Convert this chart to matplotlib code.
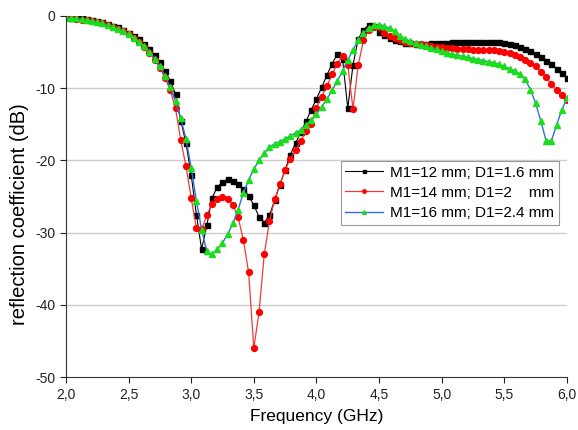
import numpy as np
import matplotlib
matplotlib.use("Agg")
import matplotlib.pyplot as plt
from matplotlib.ticker import FuncFormatter

plt.rcParams['font.family'] = ['Liberation Sans', 'DejaVu Sans']
plt.rcParams['axes.unicode_minus'] = False

# frequency grid (GHz), 97 points 2.0 .. 6.0
freq = np.linspace(2.0, 6.0, 97)

# M1=12 mm; D1=1.6 mm
s11_m12 = [
    -0.2, -0.25, -0.3, -0.35, -0.45, -0.6, -0.75, -0.9, -1.1, -1.35,
    -1.6, -1.95, -2.3, -2.75, -3.25, -3.85, -4.55, -5.4, -6.4, -7.6,
    -9.0, -10.8, -14.5, -17.6, -22.0, -27.5, -32.3, -29.0, -25.2, -23.7,
    -23.0, -22.6, -22.8, -23.3, -23.9, -24.9, -26.2, -27.8, -28.6, -27.6,
    -25.5, -23.4, -21.3, -19.2, -17.6, -16.1, -14.6, -13.0, -11.5, -9.9,
    -8.2, -6.6, -5.3, -6.0, -12.8, -6.8, -3.2, -1.9, -1.3, -1.4,
    -2.2, -2.7, -3.05, -3.3, -3.5, -3.7, -3.8, -3.85, -3.85, -3.85,
    -3.8, -3.8, -3.75, -3.7, -3.65, -3.6, -3.6, -3.55, -3.55, -3.55,
    -3.55, -3.55, -3.6, -3.65, -3.75, -3.9, -4.05, -4.3, -4.6, -4.9,
    -5.3, -5.7, -6.2, -6.7, -7.3, -7.9, -8.6,
]

# M1=14 mm; D1=2 mm
s11_m14 = [
    -0.3, -0.35, -0.4, -0.5, -0.6, -0.75, -0.9, -1.05, -1.25, -1.5,
    -1.8, -2.15, -2.55, -3.0, -3.6, -4.3, -5.1, -6.1, -7.2, -8.6,
    -10.3, -12.8, -17.2, -20.8, -25.2, -29.4, -29.5, -27.6, -26.0, -25.3,
    -25.0, -25.3, -26.2, -27.9, -31.0, -35.5, -46.0, -41.0, -33.0, -28.4,
    -25.4, -23.3, -21.3, -19.8, -18.6, -17.3, -16.0, -14.9, -12.7, -11.2,
    -9.7, -8.1, -6.6, -5.5, -6.8, -12.9, -6.8, -3.4, -2.0, -1.5,
    -1.5, -2.3, -2.8, -3.1, -3.4, -3.6, -3.75, -3.85, -3.95, -4.05,
    -4.15, -4.25, -4.35, -4.45, -4.5, -4.55, -4.6, -4.6, -4.65, -4.65,
    -4.7, -4.7, -4.75, -4.85, -5.0, -5.2, -5.45, -5.75, -6.1, -6.5,
    -7.0, -7.7, -8.5, -9.4, -10.2, -11.0, -11.7,
]

# M1=16 mm; D1=2.4 mm
s11_m16 = [
    -0.25, -0.3, -0.35, -0.45, -0.55, -0.7, -0.85, -1.05, -1.25, -1.5,
    -1.8, -2.15, -2.55, -3.0, -3.55, -4.2, -5.0, -5.9, -7.0, -8.3,
    -9.9, -11.8, -14.2, -17.0, -21.0, -25.6, -29.6, -32.6, -33.0, -32.3,
    -31.4, -30.2, -28.7, -26.8, -24.5, -22.7, -21.2, -20.0, -19.0, -18.2,
    -17.7, -17.4, -17.0, -16.6, -16.2, -15.8, -15.1, -14.4, -13.6, -12.6,
    -11.5, -10.3, -9.0, -7.6, -6.1, -4.7, -3.4, -2.4, -1.7, -1.3,
    -1.2, -1.4, -1.7, -2.1, -2.8, -3.2, -3.5, -3.8, -4.0, -4.2,
    -4.4, -4.6, -4.9, -5.1, -5.3, -5.45, -5.6, -5.75, -5.9, -6.05,
    -6.2, -6.35, -6.5, -6.7, -7.0, -7.3, -7.6, -8.1, -8.8, -10.2,
    -12.1, -14.6, -17.3, -17.3, -15.1, -13.0, -11.4,
]

labels = ["M1=12 mm; D1=1.6 mm", "M1=14 mm; D1=2    mm", "M1=16 mm; D1=2.4 mm"]
yticks = [0, -10, -20, -30, -40, -50]
xticks = [2.0, 2.5, 3.0, 3.5, 4.0, 4.5, 5.0, 5.5, 6.0]

fig = plt.figure(figsize=(5.78, 4.30), dpi=100)
ax = fig.add_axes([0.114, 0.123, 0.867, 0.840])

ax.plot(freq, s11_m12, color='black', lw=0.8, marker='s', ms=3.6,
        mfc='black', mec='black', label=labels[0])
ax.plot(freq, s11_m14, color='#f03a3a', lw=0.9, marker='o', ms=4.2,
        mfc='#ff0000', mec='#ff0000', label=labels[1])
ax.plot(freq, s11_m16, color='#2f6fdf', lw=1.0, marker='^', ms=4.6,
        mfc='#18e018', mec='#18e018', label=labels[2])

ax.set_xlim(2.0, 6.0)
ax.set_ylim(-50, 0)
ax.set_xticks(xticks)
ax.set_yticks(yticks)
ax.xaxis.set_major_formatter(FuncFormatter(lambda v, p: ("%.1f" % v).replace('.', ',')))
ax.tick_params(direction='out', length=4, width=0.8, labelsize=10, colors='#222222')

ax.grid(axis='y', color='#cccccc', lw=1.0)
ax.set_axisbelow(True)
for t, gl in zip(ax.get_yticks(), ax.get_ygridlines()):
    if t == 0 or t == -50:
        gl.set_visible(False)

ax.spines['top'].set_visible(False)
ax.spines['right'].set_visible(False)
ax.spines['left'].set_color('#333333')
ax.spines['bottom'].set_color('#333333')

ax.set_xlabel("Frequency (GHz)", fontsize=12.5)
ax.xaxis.set_label_coords(0.5, -0.088)
ax.set_ylabel("reflection coefficient (dB)", fontsize=14.5)
ax.yaxis.set_label_coords(-0.074, 0.45)

leg = ax.legend(loc='upper left', bbox_to_anchor=(0.548, 0.598), borderaxespad=0,
                fontsize=11, handlelength=2.5, handletextpad=0.45, markerscale=0.6,
                fancybox=False, framealpha=1, edgecolor='#999999',
                borderpad=0.3, labelspacing=0.4)
leg.get_frame().set_linewidth(0.8)

fig.savefig("out.png", dpi=100)
